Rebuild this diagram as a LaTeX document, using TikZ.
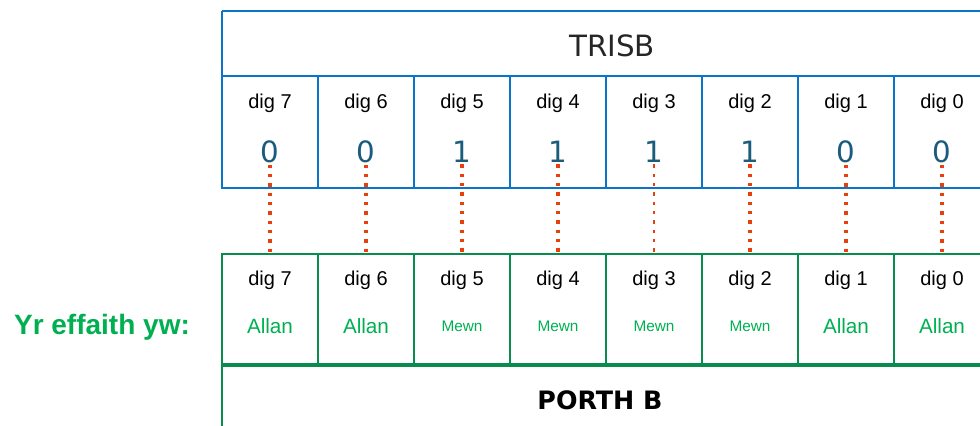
\documentclass[tikz,border=0pt]{standalone}
\usepackage{fontspec}
\setmainfont{Liberation Sans}
\newfontfamily\roundfont{DejaVu Sans}
\definecolor{regblue}{HTML}{0B74C8}
\definecolor{portgreen}{HTML}{0A8C4C}
\definecolor{effgreen}{HTML}{00B050}
\definecolor{linkred}{HTML}{E8400C}
\definecolor{bitteal}{HTML}{1B5C7C}
\tikzset{
  regcell/.style={draw=regblue, line width=1.5pt, minimum width=72pt, minimum height=84pt, inner sep=0pt},
  portcell/.style={draw=portgreen, line width=1.6pt, minimum width=72pt, minimum height=83.25pt, inner sep=0pt},
  diglabel/.style={font=\fontsize{15}{18}\selectfont, text=black, inner sep=1pt},
  bitval/.style={font=\roundfont\fontsize{22}{26}\selectfont, text=bitteal, inner sep=1pt},
  allanword/.style={font=\fontsize{15.5}{18}\selectfont, text=effgreen, inner sep=1pt},
  mewnword/.style={font=\fontsize{11.5}{14}\selectfont, text=effgreen, inner sep=1pt},
  linkthick/.style={draw=linkred, line width=2.4pt, dash pattern=on 2.6pt off 4.4pt},
  linkthin/.style={draw=linkred, line width=1.3pt, dash pattern=on 2.6pt off 4.4pt},
}
\begin{document}
\begin{tikzpicture}[x=0.75pt, y=-0.75pt]
\useasboundingbox (0,0) rectangle (980,425);
\clip (0,0) rectangle (980,425);

% TRISB register: header band
\draw[regblue, line width=2.2pt] (222,11) -- (995,11);
\draw[regblue, line width=1.5pt] (222,11) -- (222,76);
\node[font=\roundfont\fontsize{22}{26}\selectfont, text=black!85] (trisb) at (612,46) {TRISB};

% PORTB register: name band
\draw[portgreen, line width=1.6pt] (222,365) -- (222,430);
\node[font=\roundfont\bfseries\fontsize{19}{23}\selectfont, text=black] (portb) at (600,400) {PORTH B};

% Side caption
\node[font=\bfseries\fontsize{21}{25}\selectfont, text=effgreen] (effaith) at (102,327) {Yr effaith yw:};

% Bit cells of both registers
\foreach \d/\v/\w/\s [count=\c from 0] in {
  7/0/Allan/allanword,
  6/0/Allan/allanword,
  5/1/Mewn/mewnword,
  4/1/Mewn/mewnword,
  3/1/Mewn/mewnword,
  2/1/Mewn/mewnword,
  1/0/Allan/allanword,
  0/0/Allan/allanword}{
  \pgfmathsetmacro\cx{270+96*\c}
  \node[regcell] (t\d) at (\cx,132) {};
  \node[diglabel] (tl\d) at (\cx,103) {dig \d};
  \node[bitval] (v\d) at (\cx,152) {\v};
  \node[portcell] (b\d) at (\cx,309.5) {};
  \node[diglabel] (bl\d) at (\cx,280) {dig \d};
  \node[\s] (w\d) at (\cx,326) {\w};
}

% Heavy outer edges
\draw[regblue, line width=2.2pt] (221,188) -- (995,188);
\draw[portgreen, line width=2.2pt] (221,254) -- (995,254);
\draw[portgreen, line width=2.6pt] (221,365) -- (995,365);

% Links from each TRISB bit to the matching PORTB bit
\foreach \d/\lk in {7/linkthick,6/linkthick,5/linkthick,4/linkthick,3/linkthin,2/linkthick,1/linkthick,0/linkthick}{
  \draw[\lk] (v\d.south) -- (b\d.north);
}
\end{tikzpicture}
\end{document}
